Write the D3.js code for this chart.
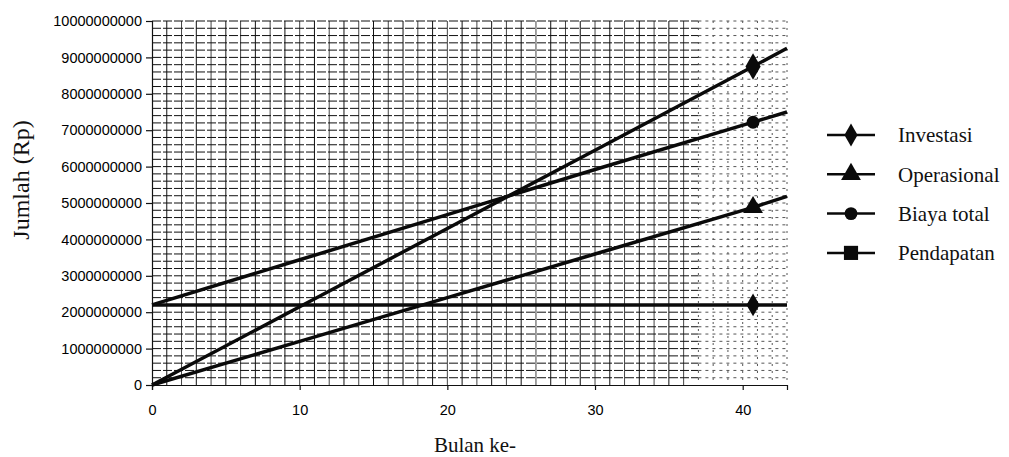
<!DOCTYPE html>
<meta charset="utf-8">
<title>Jumlah (Rp) per bulan</title>
<style>
body {
  margin: 0;
  background: #fff;
}
.tick text {
  font-family: "Liberation Sans", Arial, sans-serif;
  font-size: 14.5px;
  fill: #000;
}
.title {
  font-family: "Liberation Serif", "Times New Roman", serif;
  fill: #111;
}
</style>
<body>
<script src="https://d3js.org/d3.v7.min.js"></script>
<script>
var months = [0, 10, 20, 30, 40.7, 43];
var investasi   = [2.2e9, 2.2e9, 2.2e9, 2.2e9, 2.2e9, 2.2e9];
var operasional = [0, 1.2e9, 2.4e9, 3.6e9, 4.88e9, 5.18e9];
var biayaTotal  = [2.2e9, 3.44e9, 4.68e9, 5.92e9, 7.22e9, 7.5e9];
var pendapatan  = [0, 2.15e9, 4.3e9, 6.45e9, 8.75e9, 9.25e9];
var seriesNames = ["Investasi", "Operasional", "Biaya total", "Pendapatan"];
var markerIndex = 4;
var yTicks = [0, 1e9, 2e9, 3e9, 4e9, 5e9, 6e9, 7e9, 8e9, 9e9, 1e10];
var xTicks = [0, 10, 20, 30, 40];

var w = 1009,
    h = 457,
    pLeft = 152,
    pRight = 787,
    pTop = 21,
    pBottom = 385;

var svg = d3.select("body").append("svg")
    .attr("width", w)
    .attr("height", h);

var x = d3.scaleLinear().domain([0, 43]).range([pLeft, pRight]);
var y = d3.scaleLinear().domain([0, 1e10]).range([pBottom, pTop]);

// grid: vertical every month, horizontal every 200 juta
var fade = 37;
var grid = svg.append("g");
grid.selectAll("line.v")
    .data(d3.range(1, 44))
  .enter().append("line")
    .attr("x1", x).attr("x2", x)
    .attr("y1", pTop).attr("y2", pBottom)
    .attr("stroke", function(d) { return d >= fade ? "#555" : (d % 2 ? "#111" : "#444"); })
    .attr("stroke-width", 1)
    .attr("stroke-dasharray", function(d) { return d >= fade ? "2,5" : null; });
var hv = d3.range(2e8, 1e10 + 1, 2e8);
grid.selectAll("line.h")
    .data(hv)
  .enter().append("line")
    .attr("x1", pLeft).attr("x2", x(fade))
    .attr("y1", y).attr("y2", y)
    .attr("stroke", "#111")
    .attr("stroke-width", 1)
    .attr("stroke-dasharray", "9,2");
grid.selectAll("line.h2")
    .data(hv)
  .enter().append("line")
    .attr("x1", x(fade)).attr("x2", pRight)
    .attr("y1", y).attr("y2", y)
    .attr("stroke", "#555")
    .attr("stroke-width", 1)
    .attr("stroke-dasharray", "3,4");

// axes
svg.append("g")
    .attr("transform", "translate(" + pLeft + ",0)")
    .call(d3.axisLeft(y).tickValues(yTicks).tickFormat(d3.format("d")).tickSize(6).tickPadding(4));
svg.append("g")
    .attr("transform", "translate(0," + pBottom + ")")
    .call(d3.axisBottom(x).tickValues(xTicks).tickFormat(d3.format("d")).tickSize(5).tickPadding(15));
svg.selectAll(".domain, .tick line").attr("stroke", "#111").attr("stroke-width", 1.2);

// lines
var data = [investasi, operasional, biayaTotal, pendapatan];
var line = d3.line()
    .x(function(d, i) { return x(months[i]); })
    .y(function(d) { return y(d); });
svg.append("g").selectAll("path")
    .data(data)
  .enter().append("path")
    .attr("d", line)
    .attr("fill", "none")
    .attr("stroke", "#0a0a0a")
    .attr("stroke-width", 3.5);

// markers as they look in the plot, and as they look in the legend
var plotSymbols = [d3.symbolDiamond, d3.symbolTriangle, d3.symbolCircle, d3.symbolDiamond];
var legendSymbols = [d3.symbolDiamond, d3.symbolTriangle, d3.symbolCircle, d3.symbolSquare];
var symbolSize = [150, 170, 130, 200];

svg.append("g").selectAll("path")
    .data(data)
  .enter().append("path")
    .attr("transform", function(d) { return "translate(" + x(months[markerIndex]) + "," + y(d[markerIndex]) + ")"; })
    .attr("d", function(d, i) { return d3.symbol(plotSymbols[i], symbolSize[i])(); })
    .attr("fill", "#0a0a0a");

// legend
var legend = svg.append("g").selectAll("g")
    .data(seriesNames)
  .enter().append("g")
    .attr("transform", function(d, i) { return "translate(827," + (135 + i * 39.3) + ")"; });
legend.append("line")
    .attr("x1", 0).attr("x2", 48)
    .attr("stroke", "#0a0a0a")
    .attr("stroke-width", 2.5);
legend.append("path")
    .attr("transform", "translate(24,0)")
    .attr("d", function(d, i) { return d3.symbol(legendSymbols[i], symbolSize[i])(); })
    .attr("fill", "#0a0a0a");
legend.append("text")
    .attr("class", "title")
    .attr("x", 71)
    .attr("dy", "0.35em")
    .style("font-size", "21px")
    .text(function(d) { return d; });

// axis titles
svg.append("text")
    .attr("class", "title")
    .attr("x", 475)
    .attr("y", 452)
    .attr("text-anchor", "middle")
    .style("font-size", "21px")
    .text("Bulan ke-");
svg.append("text")
    .attr("class", "title")
    .attr("transform", "translate(29,180)rotate(-90)")
    .attr("text-anchor", "middle")
    .style("font-size", "24px")
    .text("Jumlah (Rp)");
</script>
